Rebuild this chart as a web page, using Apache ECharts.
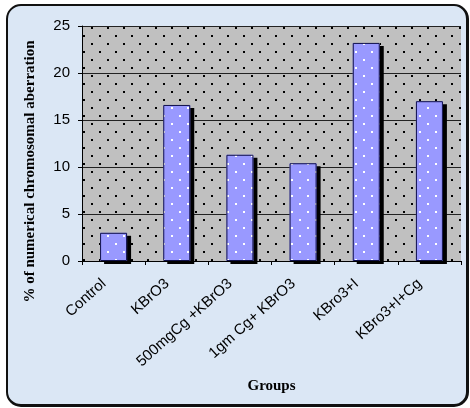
<!DOCTYPE html>
<html>
<head>
<meta charset="utf-8">
<script src="https://cdn.jsdelivr.net/npm/echarts@6/dist/echarts.min.js"></script>
<style>
  html, body { margin: 0; padding: 0; background: #ffffff; }
  #frame {
    position: absolute; left: 6px; top: 4px; width: 458px; height: 398px;
    border: 2px solid #111; border-right-width: 3px; border-bottom-width: 3px;
    border-radius: 15px; background: #dbe7f5;
  }
  #chart { position: absolute; left: 0; top: 0; width: 470px; height: 408px; }
</style>
</head>
<body>
<div id="frame"></div>
<div id="chart"></div>
<script>
// Groups and their percentage of numerical chromosomal aberration
const groups = ['Control', 'KBrO3', '500mgCg +KBrO3', '1gm Cg+ KBrO3', 'KBro3+I', 'KBro3+I+Cg'];
const aberration = [3.0, 16.6, 11.3, 10.4, 23.2, 17.0];
const yTicks = [0, 5, 10, 15, 20, 25];

// staggered dot tile used as a fill pattern
function dotTile(bg, dot) {
  const c = document.createElement('canvas');
  c.width = 16; c.height = 16;
  const g = c.getContext('2d');
  g.fillStyle = bg; g.fillRect(0, 0, 16, 16);
  g.fillStyle = dot;
  g.fillRect(3, 3, 2, 2);
  g.fillRect(11, 11, 2, 2);
  return c;
}

const chart = echarts.init(document.getElementById('chart'), null, { renderer: 'canvas' });
chart.setOption({
  backgroundColor: 'transparent',
  animation: false,
  grid: {
    left: 82, right: 9, top: 26, bottom: 147,
    show: true, borderWidth: 0,
    backgroundColor: { image: dotTile('#c0c0c0', '#000000'), repeat: 'repeat' }
  },
  xAxis: {
    type: 'category',
    data: groups,
    name: 'Groups',
    nameLocation: 'middle',
    nameGap: 118,
    nameTextStyle: { fontFamily: 'Liberation Serif', fontWeight: 'bold', fontSize: 15, color: '#000' },
    axisLine: { lineStyle: { color: '#000', width: 1 } },
    axisTick: { show: true, length: 4, lineStyle: { color: '#000' } },
    axisLabel: {
      rotate: 42, margin: 12, padding: [0, 13, 0, 0],
      fontFamily: 'Liberation Sans', fontSize: 15, color: '#000', interval: 0
    }
  },
  yAxis: {
    type: 'value',
    min: yTicks[0], max: yTicks[yTicks.length - 1], interval: 5,
    name: '% of numerical chromosomal aberration',
    nameLocation: 'middle',
    nameGap: 44,
    nameTextStyle: {
      fontFamily: 'Liberation Serif', fontWeight: 'bold', fontSize: 15, color: '#000',
      padding: [0, 56, 0, 0]
    },
    axisLine: { show: true, lineStyle: { color: '#000', width: 1 } },
    axisTick: { show: true, length: 4, lineStyle: { color: '#000' } },
    axisLabel: { margin: 12, fontFamily: 'Liberation Sans', fontSize: 15, color: '#000' },
    splitLine: { lineStyle: { color: '#222', width: 1 } }
  },
  series: [
    {
      // patterned bar body with its drop shadow
      type: 'bar',
      data: aberration,
      barWidth: 27,
      itemStyle: {
        color: { image: dotTile('#9999ff', '#ffffff'), repeat: 'repeat' },
        borderWidth: 0,
        shadowColor: '#000',
        shadowBlur: 0,
        shadowOffsetX: 4,
        shadowOffsetY: 3
      }
    },
    {
      // outline drawn on top of the same bars
      type: 'bar',
      data: aberration,
      barWidth: 27,
      barGap: '-100%',
      silent: true,
      itemStyle: { color: 'transparent', borderColor: '#10104a', borderWidth: 1 }
    }
  ]
});
</script>
</body>
</html>
